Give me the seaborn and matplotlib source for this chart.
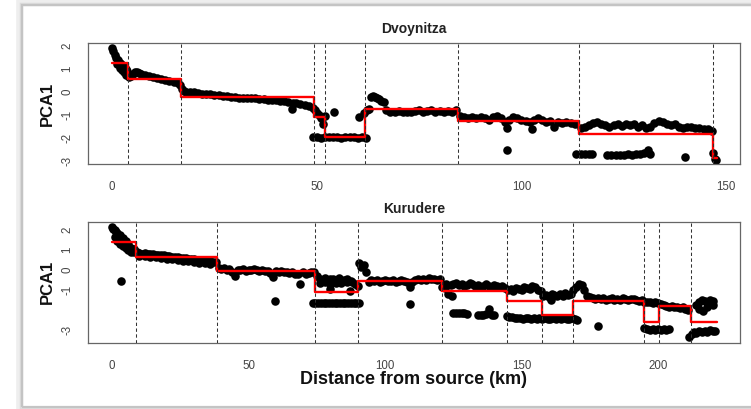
import numpy as np
import pandas as pd
import matplotlib
matplotlib.use("Agg")
import matplotlib.pyplot as plt
from matplotlib.patches import Rectangle
import seaborn as sns

# ---------------- Dvoynitza (top panel) ----------------
dv_km_a = [0, 0.3, 0.6, 1.0, 1.4, 1.8, 2.2, 2.6, 3.0, 3.4, 3.7, 1.2, 1.8, 2.4, 3.0, 3.5]
dv_pc_a = [1.93, 1.8, 1.62, 1.48, 1.38, 1.28, 1.2, 1.12, 1.05, 0.98, 0.9, 1.2, 1.05, 0.95, 0.85, 0.72]
dv_km_b = [4.0, 4.5, 5.0, 5.5, 6.0, 6.5, 7, 8, 9, 10, 11, 12, 13, 14, 15, 16, 16.6]
dv_pc_b = [0.65, 0.7, 0.8, 0.88, 0.85, 0.82, 0.8, 0.74, 0.7, 0.66, 0.62, 0.58, 0.52, 0.47, 0.42, 0.37, 0.3]
dv_km_c = [17, 17.5, 18, 19, 20, 21, 22, 23, 24, 25, 26, 27, 28, 29, 30, 31, 32, 33, 34, 35,
           36, 37, 38, 39, 40, 41, 42, 43, 44, 45, 46, 47, 48, 49, 44.3]
dv_pc_c = [0.12, 0.05, 0.02, 0.0, -0.02, -0.05, -0.07, -0.09, -0.1, -0.12, -0.14, -0.16, -0.18, -0.2,
           -0.22, -0.24, -0.25, -0.26, -0.27, -0.28, -0.3, -0.31, -0.33, -0.34, -0.36, -0.38, -0.41,
           -0.45, -0.72, -0.5, -0.52, -0.56, -0.6, -0.68, -0.48]
dv_km_d = [49.6, 50.1, 50.6, 51.1, 51.5, 51.9, 54.3, 60.2]
dv_pc_d = [-0.78, -0.9, -1.0, -1.15, -1.4, -1.05, -0.88, -1.08]
dv_km_e = [49, 50, 51, 52, 53, 54, 55, 56, 57, 58, 59, 60, 61, 62]
dv_pc_e = [-1.97, -1.96, -1.98, -1.97, -1.97, -1.96, -1.97, -1.98, -1.97, -1.96, -1.97, -1.98, -1.97, -1.98]
dv_km_f = [61.5, 62.2, 62.8, 63.3, 63.8, 64.3, 64.8, 65.3, 65.8, 66.3, 67, 68, 69, 70, 71, 72, 73, 74,
           75, 76, 77, 78, 79, 80, 81, 82, 83, 84]
dv_pc_f = [-0.9, -0.78, -0.75, -0.22, -0.18, -0.2, -0.28, -0.3, -0.38, -0.45, -0.8, -0.85, -0.85, -0.82,
           -0.88, -0.85, -0.85, -0.82, -0.8, -0.85, -0.84, -0.8, -0.86, -0.83, -0.86, -0.82, -0.85, -0.8]
dv_km_g = [85, 86, 87, 88, 89, 90, 91, 92, 93, 94, 95, 96, 96.5, 97, 98, 99, 100, 101, 102, 102.5,
           103, 104, 105, 106, 107, 108, 109, 110, 111, 112, 113, 96.5, 113.3]
dv_pc_g = [-1.05, -1.1, -1.12, -1.1, -1.15, -1.08, -1.15, -1.2, -1.1, -1.05, -1.15, -1.3, -1.55, -1.2,
           -1.08, -1.15, -1.2, -1.25, -1.3, -1.6, -1.2, -1.15, -1.2, -1.3, -1.25, -1.5, -1.3, -1.35,
           -1.3, -1.35, -1.4, -2.5, -2.68]
dv_km_h = [114.5, 115.5, 116.5, 117.5, 118.5, 119.5, 120.5, 121.5, 122.5, 123.5, 124.5, 125.5, 126.5,
           127.5, 128.5, 129.5, 130.5, 131.5, 132.5, 133.5, 134.5, 135.5, 136.5, 137.5, 138.5, 139.5,
           140.5, 141.5, 142.5, 143.5, 144.5, 145.5, 146.5]
dv_pc_h = [-1.55, -1.5, -1.45, -1.35, -1.3, -1.38, -1.45, -1.5, -1.42, -1.4, -1.48, -1.4, -1.45, -1.4,
           -1.5, -1.45, -1.55, -1.5, -1.35, -1.25, -1.3, -1.4, -1.45, -1.4, -1.5, -1.55, -1.5, -1.52,
           -1.55, -1.55, -1.6, -1.62, -1.7]
dv_km_i = [114.5, 115.5, 116.5, 117.3, 121, 122, 123, 124, 125, 126, 127, 128, 129, 130, 131, 131.5,
           140, 146.8, 147.2, 147.5]
dv_pc_i = [-2.68, -2.7, -2.68, -2.7, -2.72, -2.72, -2.75, -2.72, -2.72, -2.7, -2.72, -2.7, -2.68,
           -2.65, -2.5, -2.7, -2.83, -2.65, -2.9, -2.95]
dv_breaks = [0, 3.8, 16.8, 49.3, 52.1, 61.9, 84.5, 114, 146.7, 147.8]
dv_levels = [1.28, 0.57, -0.23, -1.1, -1.94, -0.75, -1.25, -1.83, -2.88, -2.88]

# ---------------- Kurudere (bottom panel) ----------------
ku_km_a = [0, 0.5, 1, 1.5, 2, 3, 4, 5, 6, 7, 8, 1, 2, 3, 4, 5, 6, 7, 8, 3.2]
ku_pc_a = [2.15, 2.05, 2.0, 1.92, 1.85, 1.75, 1.6, 1.45, 1.3, 1.12, 1.05,
           1.65, 1.45, 1.3, 1.2, 1.1, 1.0, 0.92, 0.88, -0.58]
ku_km_b = [9, 10, 11, 12, 13, 14, 15, 16, 17, 18, 19, 20, 21, 22, 23, 24, 25, 26, 27, 28, 29, 30,
           31, 32, 33, 34, 35, 36, 37, 38,
           10, 12, 14, 16, 18, 20, 22, 24, 26, 28, 30, 32, 34, 36]
ku_pc_b = [0.88, 0.85, 0.8, 0.82, 0.8, 0.78, 0.8, 0.76, 0.75, 0.74, 0.72, 0.7, 0.68, 0.66, 0.65, 0.62,
           0.6, 0.6, 0.58, 0.56, 0.55, 0.52, 0.5, 0.48, 0.5, 0.45, 0.44, 0.42, 0.4, 0.38,
           0.7, 0.68, 0.65, 0.62, 0.58, 0.55, 0.52, 0.5, 0.46, 0.45, 0.4, 0.35, 0.32, 0.28]
ku_km_c = [39, 40, 41, 42, 43, 44, 45, 46, 47, 48, 49, 50, 51, 52, 53, 54, 55, 56, 57, 58, 59, 60,
           61, 62, 63, 64, 65, 66, 67, 68, 69, 70, 71, 72, 73, 74, 59.7]
ku_pc_c = [0.1, 0.05, 0.08, 0.0, 0.02, -0.1, -0.3, 0.0, -0.02, 0.05, -0.05, 0.0, -0.02, 0.05, 0.0,
           -0.05, -0.03, -0.08, -0.05, -0.15, -0.35, -0.05, -0.1, -0.08, -0.12, -0.1, -0.15, -0.12,
           -0.2, -0.2, -0.72, -0.12, -0.2, -0.15, -0.1, -0.1, -1.55]
ku_km_d = [75, 76, 77, 78, 79, 80, 81, 82, 83, 84, 85, 86, 87, 88, 89, 90, 80, 87.5,
           76, 78, 80, 82, 84, 86]
ku_pc_d = [-0.3, -0.45, -0.5, -0.4, -0.55, -0.45, -0.45, -0.5, -0.4, -0.55, -0.5, -0.45, -1.05,
           -0.6, -0.7, -0.8, -0.95, -0.55, -0.65, -0.6, -0.7, -0.65, -0.68, -0.62]
ku_km_e = [73.6, 74.5, 75.5, 76.5, 77.5, 78.5, 79.5, 80.5, 81.5, 82.5, 83.5, 84.5, 85.5, 86.5, 87.5,
           88.5, 89.5, 90.5]
ku_pc_e = [-1.67, -1.67, -1.66, -1.67, -1.68, -1.67, -1.66, -1.67, -1.67, -1.68, -1.67, -1.66, -1.67,
           -1.67, -1.68, -1.67, -1.66, -1.67]
ku_km_f = [90.5, 91.3, 92.2, 93, 94, 95, 96, 97, 98, 99, 100, 101, 102, 103, 104, 105, 106, 107, 108,
           109, 110, 111, 112, 113, 114, 115, 116, 117, 118, 119, 120, 109]
ku_pc_f = [0.35, 0.15, 0.25, -0.1, -0.6, -0.5, -0.55, -0.5, -0.6, -0.55, -0.5, -0.58, -0.55, -0.5,
           -0.6, -0.55, -0.5, -0.55, -0.6, -0.85, -0.6, -0.5, -0.45, -0.5, -0.45, -0.5, -0.42,
           -0.48, -0.45, -0.5, -0.45, -1.72]
ku_km_g = [121, 122, 123, 124, 125, 126, 127, 128, 129, 130, 131, 132, 133, 134, 135, 136, 137, 138,
           139, 140, 141, 142, 143, 144, 124.5, 122.5]
ku_pc_g = [-0.85, -0.9, -1.2, -0.75, -0.7, -0.65, -0.75, -0.7, -0.8, -0.75, -0.65, -0.7, -0.8, -0.75,
           -0.85, -0.8, -0.7, -0.8, -0.85, -0.75, -0.8, -0.85, -0.8, -0.9, -1.3, -0.7]
ku_km_h = [125, 126, 127, 128, 129, 130, 134, 135, 136, 137, 138, 139, 140]
ku_pc_h = [-2.15, -2.15, -2.17, -2.15, -2.17, -2.2, -2.25, -2.28, -2.25, -2.2, -1.98, -2.25, -2.28]
ku_km_i = [145, 146, 147, 148, 149, 150, 151, 152, 153, 154, 155, 156, 157,
           158, 159, 160, 161, 162, 163, 164, 165, 166, 167, 168, 160.7]
ku_pc_i = [-1.0, -0.95, -1.05, -0.9, -0.95, -1.0, -0.85, -0.9, -0.95, -0.8, -0.85, -1.0, -1.05,
           -1.3, -1.25, -1.35, -1.2, -1.25, -1.3, -1.2, -1.3, -1.15, -1.25, -1.2, -1.5]
ku_km_j = [144.5, 145.5, 146.5, 147.5, 148.5, 149.5, 150.5, 151.5, 152.5, 153.5, 154.5, 155.5, 156.5,
           157.5, 158.5, 159.5, 160.5, 161.5, 162.5, 163.5, 164.5, 165.5, 166.5, 167.5, 168.5, 169.5]
ku_pc_j = [-2.3, -2.35, -2.38, -2.4, -2.42, -2.4, -2.45, -2.42, -2.4, -2.45, -2.42, -2.45, -2.4,
           -2.45, -2.42, -2.45, -2.45, -2.42, -2.45, -2.4, -2.45, -2.42, -2.45, -2.45, -2.42, -2.45]
ku_km_k = [169, 170, 171, 172, 173, 174, 175, 176, 177, 178, 179, 180, 181, 182, 183, 184, 185, 186,
           187, 188, 189, 190, 191, 192, 193, 194, 170.4, 178]
ku_pc_k = [-1.0, -0.85, -0.72, -0.75, -1.0, -1.3, -1.35, -1.4, -1.45, -1.4, -1.45, -1.4, -1.5, -1.45,
           -1.4, -1.5, -1.45, -1.5, -1.42, -1.45, -1.5, -1.48, -1.45, -1.5, -1.55, -1.5, -2.5, -2.8]
ku_km_l = [195, 196, 197, 198, 199, 200, 201, 202, 203, 204, 205, 206, 207, 208, 209, 210, 211]
ku_pc_l = [-1.6, -1.6, -1.62, -1.65, -1.6, -1.68, -1.7, -1.75, -1.8, -1.85, -1.82, -1.88, -1.85,
           -1.9, -1.88, -1.95, -2.0]
ku_km_m = [195, 196, 197, 198, 199, 200, 201, 202, 203, 204]
ku_pc_m = [-2.9, -2.95, -3.0, -2.95, -3.0, -2.98, -3.0, -2.95, -3.0, -2.97]
ku_km_n = [214, 215, 216, 217, 218, 219, 220, 215, 216.5, 218, 220,
           211.5, 212.5, 213, 214, 215, 216, 217, 218, 219, 220, 221]
ku_pc_n = [-1.75, -1.6, -1.5, -1.55, -1.6, -1.5, -1.55, -1.95, -2.05, -1.85, -1.75,
           -3.35, -3.2, -3.1, -3.15, -3.05, -3.1, -3.05, -3.1, -3.0, -3.05, -3.05]
ku_breaks = [0, 8.8, 38.3, 74.4, 90.2, 121, 144.6, 157.6, 169, 195, 200.5, 212, 221.6]
ku_levels = [1.4, 0.62, -0.07, -1.13, -0.55, -1.05, -1.55, -2.25, -1.57, -2.63, -1.83, -2.63, -2.63]

dv_df = pd.DataFrame({
    "km": dv_km_a + dv_km_b + dv_km_c + dv_km_d + dv_km_e + dv_km_f + dv_km_g + dv_km_h + dv_km_i,
    "pca": dv_pc_a + dv_pc_b + dv_pc_c + dv_pc_d + dv_pc_e + dv_pc_f + dv_pc_g + dv_pc_h + dv_pc_i})
ku_df = pd.DataFrame({
    "km": ku_km_a + ku_km_b + ku_km_c + ku_km_d + ku_km_e + ku_km_f + ku_km_g + ku_km_h + ku_km_i
          + ku_km_j + ku_km_k + ku_km_l + ku_km_m + ku_km_n,
    "pca": ku_pc_a + ku_pc_b + ku_pc_c + ku_pc_d + ku_pc_e + ku_pc_f + ku_pc_g + ku_pc_h + ku_pc_i
           + ku_pc_j + ku_pc_k + ku_pc_l + ku_pc_m + ku_pc_n})

sns.set_style("white")
plt.rcParams["font.family"] = ["Liberation Sans", "DejaVu Sans"]

W, H = 751, 409
fig = plt.figure(figsize=(W / 100, H / 100), dpi=100)
fig.patch.set_facecolor("white")


def fx(px):
    return px / W


def fy(py):
    return 1 - py / H


# slide-like frame with soft shadow
for off, col, lw in [(3, "#eeeeee", 4), (1.5, "#dcdcdc", 2.5), (0, "#c4c4c4", 1.6)]:
    fig.add_artist(Rectangle((fx(22 - off), fy(407 + off)), 1.2, fy(5 - off) - fy(407 + off),
                             transform=fig.transFigure, fill=False, edgecolor=col, lw=lw))

ax1 = fig.add_axes([fx(88), fy(164), fx(740) - fx(88), fy(43) - fy(164)])
ax2 = fig.add_axes([fx(88), fy(343), fx(740) - fx(88), fy(222) - fy(343)])


def draw(ax, df, breaks, levels, xlim, ylim, xticks, yticks, ylabels):
    sns.scatterplot(data=df, x="km", y="pca", color="black", s=38, linewidth=0,
                    ax=ax, legend=False, zorder=2)
    sns.lineplot(x=breaks, y=levels, drawstyle="steps-post", color="#ff0000", lw=1.7,
                 ax=ax, estimator=None, sort=False, zorder=3)
    for b in breaks[1:-1]:
        ax.axvline(b, color="#333333", ls=(0, (3.2, 2.4)), lw=0.75, zorder=4)
    ax.set_xlim(*xlim)
    ax.set_ylim(*ylim)
    ax.set_xticks(xticks)
    ax.set_xticklabels([str(t) for t in xticks])
    ax.set_yticks(yticks)
    ax.set_yticklabels(ylabels, rotation=90, va="center")
    ax.set_xlabel("")
    ax.set_ylabel("")
    ax.tick_params(axis="both", direction="out", length=5.5, width=0.8, color="#555555",
                   labelsize=8.3, labelcolor="#444444")
    ax.tick_params(axis="x", pad=7)
    ax.tick_params(axis="y", pad=5)
    for sp in ax.spines.values():
        sp.set_visible(True)
        sp.set_color("#666666")
        sp.set_linewidth(0.9)
    ax.set_facecolor("white")


draw(ax1, dv_df, dv_breaks, dv_levels, (-5.9, 153.4), (-3.13, 2.13),
     [0, 50, 100, 150], [-3, -2, -1, 0, 1, 2], ["-3", "-2", "-1", "0", "1", "2"])
draw(ax2, ku_df, ku_breaks, ku_levels, (-8.8, 230.0), (-3.67, 2.4),
     [0, 50, 100, 150, 200], [-3, -2, -1, 0, 1, 2], ["-3", "", "-1", "0", "1", "2"])

fig.text(fx(414), fy(29), "Dvoynitza", ha="center", va="center", fontsize=10,
         fontweight="bold", color="#222222")
fig.text(fx(414), fy(209), "Kurudere", ha="center", va="center", fontsize=10,
         fontweight="bold", color="#222222")
fig.text(fx(47), fy(104), "PCA1", ha="center", va="center", rotation=90, fontsize=12,
         fontweight="bold", color="#111111")
fig.text(fx(47), fy(282), "PCA1", ha="center", va="center", rotation=90, fontsize=12,
         fontweight="bold", color="#111111")
fig.text(fx(413), fy(380), "Distance from source (km)", ha="center", va="center",
         fontsize=13, fontweight="bold", color="#111111")

fig.savefig("out.png", dpi=100, facecolor="white")
